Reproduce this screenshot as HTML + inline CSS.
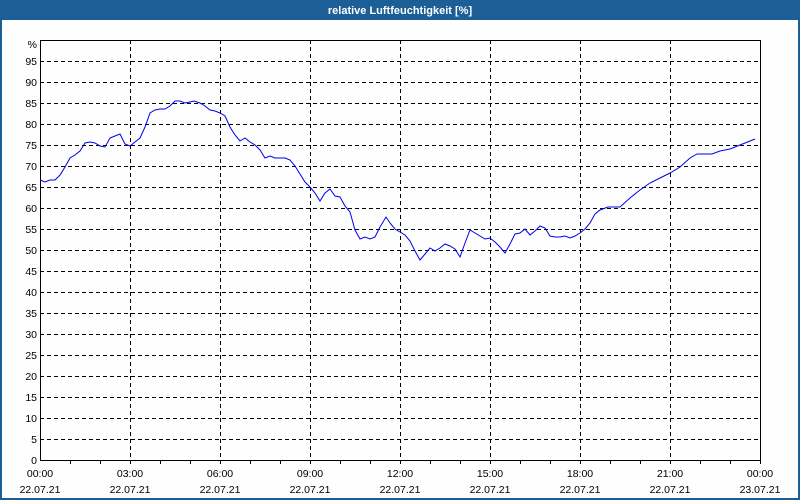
<!DOCTYPE html>
<html><head><meta charset="utf-8"><style>
html,body{margin:0;padding:0;background:#fff}
#w{position:relative;width:800px;height:500px;overflow:hidden}
</style></head><body><div id="w">
<svg width="800" height="500" xmlns="http://www.w3.org/2000/svg" font-family="'Liberation Sans',sans-serif" font-size="10.5">
<rect x="0" y="0" width="800" height="500" fill="#1b5f96"/>
<rect x="2" y="20" width="796" height="478" fill="#fdfefd"/>
<text x="400" y="14" fill="#fff" font-weight="bold" font-size="11" text-anchor="middle">relative Luftfeuchtigkeit [%]</text>
<g stroke="#000" stroke-dasharray="4,3" stroke-width="1">
<path d="M40 61.5H760M40 82.5H760M40 103.5H760M40 124.5H760M40 145.5H760M40 166.5H760M40 187.5H760M40 208.5H760M40 229.5H760M40 250.5H760M40 271.5H760M40 292.5H760M40 313.5H760M40 334.5H760M40 355.5H760M40 376.5H760M40 397.5H760M40 418.5H760M40 439.5H760"/>
<path d="M130.5 40V460M220.5 40V460M310.5 40V460M400.5 40V460M490.5 40V460M580.5 40V460M670.5 40V460"/>
</g>
<rect x="40.5" y="40.5" width="720" height="420" fill="none" stroke="#000"/>
<g stroke="#000"><path d="M70.5 460v4M100.5 460v4M130.5 460v4M160.5 460v4M190.5 460v4M220.5 460v4M250.5 460v4M280.5 460v4M310.5 460v4M340.5 460v4M370.5 460v4M400.5 460v4M430.5 460v4M460.5 460v4M490.5 460v4M520.5 460v4M550.5 460v4M580.5 460v4M610.5 460v4M640.5 460v4M670.5 460v4M700.5 460v4M730.5 460v4M760.5 460v4"/></g>
<g text-anchor="end" fill="#000">
<text x="37" y="48">%</text>
<text x="37" y="65">95</text><text x="37" y="86">90</text><text x="37" y="107">85</text><text x="37" y="128">80</text><text x="37" y="149">75</text><text x="37" y="170">70</text><text x="37" y="191">65</text><text x="37" y="212">60</text><text x="37" y="233">55</text><text x="37" y="254">50</text><text x="37" y="275">45</text><text x="37" y="296">40</text><text x="37" y="317">35</text><text x="37" y="338">30</text><text x="37" y="359">25</text><text x="37" y="380">20</text><text x="37" y="401">15</text><text x="37" y="422">10</text><text x="37" y="443">5</text><text x="37" y="464">0</text>
</g>
<g text-anchor="middle" fill="#000">
<text x="40" y="477">00:00</text><text x="40" y="493">22.07.21</text>
<text x="130" y="477">03:00</text><text x="130" y="493">22.07.21</text>
<text x="220" y="477">06:00</text><text x="220" y="493">22.07.21</text>
<text x="310" y="477">09:00</text><text x="310" y="493">22.07.21</text>
<text x="400" y="477">12:00</text><text x="400" y="493">22.07.21</text>
<text x="490" y="477">15:00</text><text x="490" y="493">22.07.21</text>
<text x="580" y="477">18:00</text><text x="580" y="493">22.07.21</text>
<text x="670" y="477">21:00</text><text x="670" y="493">22.07.21</text>
<text x="760" y="477">00:00</text><text x="760" y="493">23.07.21</text>
</g>
<polyline fill="none" stroke="#0000ee" stroke-width="1" points="40,180 45,182 50,180 55,180 60,175 65,167 70,158 75,155 80,151 85,143 90,142 95,143 100,146 105,147 110,138 115,136 120,134 125,144 130,146 135,142 140,138 145,127 150,113 155,110 160,109 165,109 170,106 175,101 180,101 185,103 190,102 194,101 200,103 205,106 210,110 215,111 220,113 225,116 230,127 235,135 240,141 245,138 250,142 255,145 260,150 265,158 270,156 275,158 280,158 285,158 290,160 295,166 300,174 305,182 310,187 315,193 320,201 325,193 330,189 335,196 340,197 345,206 350,212 355,230 360,239 365,237 370,239 375,237 380,227 386,217 390,223 395,229 400,232 405,235 410,241 415,251 420,260 425,254 430,248 435,251 440,248 445,244 450,246 455,249 460,257 465,243 470,230 475,233 480,236 485,239 490,238 495,242 500,247 505,253 510,244 515,234 520,233 525,229 530,235 535,231 540,226 545,228 550,236 555,237 560,237 565,236 570,238 575,236 580,233 585,229 590,223 595,214 600,210 608,207 620,207 630,198 640,190 650,183 660,178 670,173 680,167 690,158 697,154 712,154 720,151 730,149 740,145 755,139"/>
</svg>
</div></body></html>
